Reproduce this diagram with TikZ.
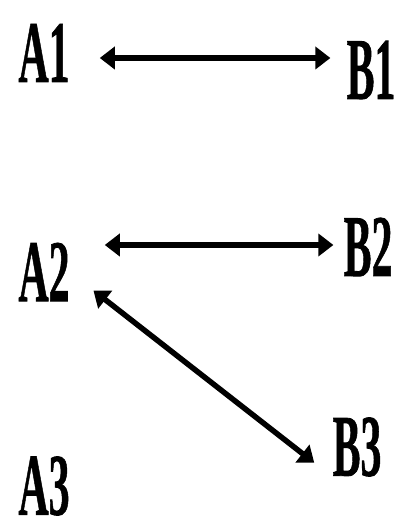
\documentclass[tikz,border=0pt]{standalone}
\usepackage{fontspec}
\setmainfont{Liberation Serif}[BoldFeatures={FakeBold=1}]
\usetikzlibrary{arrows.meta}
\begin{document}
\begin{tikzpicture}[x=1bp,y=1bp,>={Triangle[length=15bp,width=22bp]},
    letter/.style={inner sep=0pt,font=\bfseries\fontsize{42}{44}\selectfont,yscale=2.1,transform shape},
    twoway/.style={<->,line width=5.5bp}]
    \useasboundingbox (0,0) rectangle (398,527);
    \node[letter] (A1) at (44,474) {A1};
    \node[letter] (B1) at (371,457) {B1};
    \node[letter] (A2) at (44,255) {A2};
    \node[letter] (B2) at (368,280) {B2};
    \node[letter] (B3) at (357,80) {B3};
    \node[letter] (A3) at (44,41) {A3};
    \draw[twoway,shorten <=30bp,shorten >=16bp] ([yshift=-5bp]A1.east) -- ([yshift=-5bp]A1.east -| B1.west);
    \draw[twoway,shorten <=35bp,shorten >=10bp] ([yshift=2bp]B2.west -| A2.east) -- ([yshift=2bp]B2.west);
    \draw[twoway,shorten <=30bp,shorten >=23bp] (A2.east) -- (B3.south west);
\end{tikzpicture}
\end{document}
